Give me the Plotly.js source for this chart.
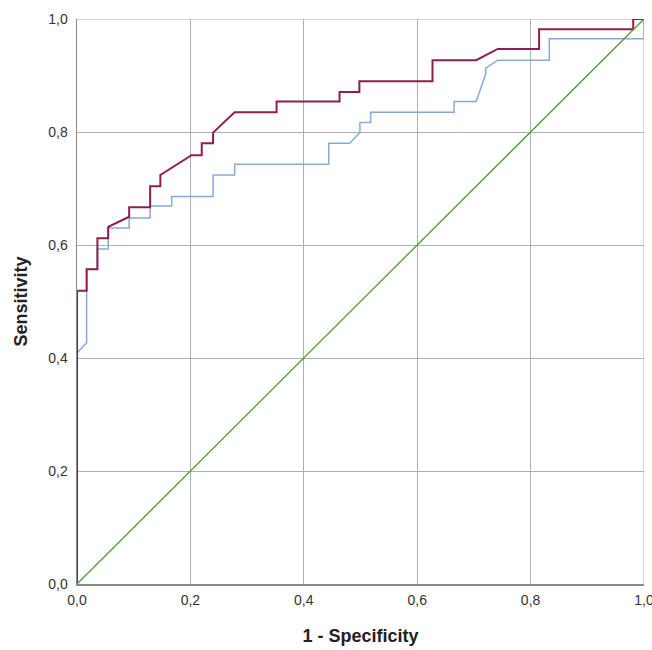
<!DOCTYPE html>
<html>
<head>
<meta charset="utf-8">
<script src="https://cdn.plot.ly/plotly-3.0.1.min.js"></script>
<style>html,body{margin:0;padding:0;background:#fff;}#chart{width:652px;height:650px;}</style>
</head>
<body>
<div id="chart"></div>
<script>
// ROC curve 1 (dark red)
const redFPR  = [0, 0, 0.017, 0.017, 0.036, 0.036, 0.055, 0.055, 0.092, 0.092, 0.129, 0.129, 0.147, 0.147, 0.202, 0.220, 0.220, 0.240, 0.240, 0.278, 0.352, 0.352, 0.463, 0.463, 0.498, 0.498, 0.627, 0.627, 0.704, 0.742, 0.815, 0.815, 0.981, 0.981, 1.0];
const redTPR  = [0, 0.519, 0.519, 0.557, 0.557, 0.612, 0.612, 0.632, 0.650, 0.667, 0.667, 0.704, 0.704, 0.724, 0.759, 0.759, 0.780, 0.780, 0.799, 0.835, 0.835, 0.854, 0.854, 0.871, 0.871, 0.890, 0.890, 0.927, 0.927, 0.947, 0.947, 0.982, 0.982, 1.0, 1.0];
// ROC curve 2 (light blue)
const blueFPR = [0, 0, 0.017, 0.017, 0.036, 0.036, 0.055, 0.055, 0.092, 0.092, 0.129, 0.129, 0.167, 0.167, 0.240, 0.240, 0.278, 0.278, 0.444, 0.444, 0.481, 0.499, 0.499, 0.518, 0.518, 0.665, 0.665, 0.704, 0.721, 0.721, 0.742, 0.833, 0.833, 1.0, 1.0];
const blueTPR = [0, 0.409, 0.427, 0.557, 0.557, 0.593, 0.593, 0.630, 0.630, 0.648, 0.648, 0.669, 0.669, 0.686, 0.686, 0.724, 0.724, 0.743, 0.743, 0.780, 0.780, 0.799, 0.817, 0.817, 0.835, 0.835, 0.854, 0.854, 0.903, 0.913, 0.927, 0.927, 0.965, 0.965, 1.0];
// Reference line
const refX = [0, 1];
const refY = [0, 1];
const tickVals = [0, 0.2, 0.4, 0.6, 0.8, 1.0];
const tickText = ['0,0', '0,2', '0,4', '0,6', '0,8', '1,0'];

const traces = [
  {x: blueFPR, y: blueTPR, mode: 'lines', line: {color: '#86aadb', width: 1.5}, hoverinfo: 'skip', cliponaxis: false},
  {x: redFPR, y: redTPR, mode: 'lines', line: {color: '#911c4e', width: 2}, hoverinfo: 'skip', cliponaxis: false},
  {x: refX, y: refY, mode: 'lines', line: {color: '#4f9a35', width: 1.3}, hoverinfo: 'skip'}
];

const fam = 'Liberation Sans, Arial, sans-serif';
const tickFont = {family: fam, size: 14, color: '#333'};
const titleFont = {family: fam, size: 18, color: '#222'};
const layout = {
  width: 652, height: 650,
  margin: {l: 77, r: 8, t: 19, b: 66},
  paper_bgcolor: '#fff', plot_bgcolor: '#fff',
  showlegend: false,
  font: tickFont,
  xaxis: {
    range: [0, 1], tickvals: tickVals, ticktext: tickText,
    showgrid: true, gridcolor: '#b0b0b0', gridwidth: 1,
    zeroline: false, showline: true, linecolor: '#8a8a8a', linewidth: 1.5, layer: 'below traces',
    ticks: 'outside', ticklen: 3, tickcolor: 'rgba(0,0,0,0)', tickfont: tickFont,
    ticklabeloverflow: 'allow',
    title: {text: '<b>1 - Specificity</b>', font: titleFont, standoff: 22}
  },
  yaxis: {
    range: [0, 1], tickvals: tickVals, ticktext: tickText,
    showgrid: true, gridcolor: '#b0b0b0', gridwidth: 1,
    zeroline: false, showline: true, linecolor: '#8a8a8a', linewidth: 1.5, layer: 'below traces',
    ticks: 'outside', ticklen: 5, tickcolor: 'rgba(0,0,0,0)', tickfont: tickFont,
    ticklabeloverflow: 'allow',
    title: {text: '<b>Sensitivity</b>', font: titleFont, standoff: 16}
  },
  shapes: [
    {type: 'line', xref: 'x', yref: 'y', x0: 0, x1: 1, y0: 1, y1: 1, line: {color: '#b0b0b0', width: 1}, layer: 'below'},
    {type: 'line', xref: 'x', yref: 'y', x0: 1, x1: 1, y0: 0, y1: 1, line: {color: '#b0b0b0', width: 1}, layer: 'below'}
  ]
};
Plotly.newPlot('chart', traces, layout, {displayModeBar: false, staticPlot: true});
</script>
</body>
</html>
